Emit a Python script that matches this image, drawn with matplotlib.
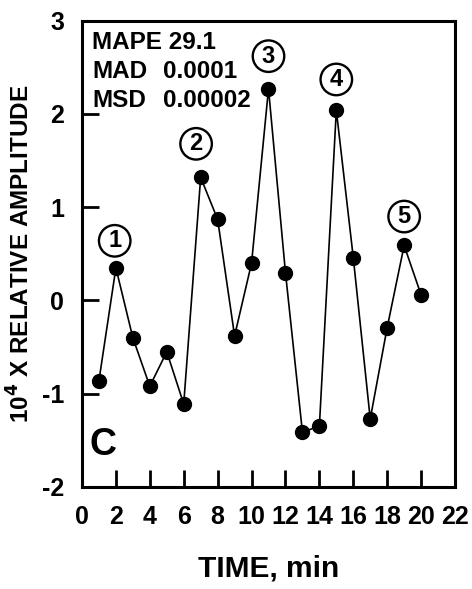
import numpy as np
import matplotlib
matplotlib.use('Agg')
from matplotlib import pyplot as plt

# residual series, minute by minute
minutes = [1, 2, 3, 4, 5, 6, 7, 8, 9, 10, 11, 12, 13, 14, 15, 16, 17, 18, 19, 20]
amplitude = [-0.86, 0.35, -0.40, -0.92, -0.55, -1.11, 1.32, 0.87, -0.38, 0.40,
             2.27, 0.30, -1.41, -1.35, 2.04, 0.46, -1.27, -0.29, 0.59, 0.06]

# numbered peaks
peak_ids = ['1', '2', '3', '4', '5']
peak_x = [1.93, 6.73, 11.0, 15.0, 19.0]
peak_y = [0.64, 1.68, 2.62, 2.37, 0.90]

stats_names = ['MAPE', 'MAD', 'MSD']
stats_values = ['29.1', '0.0001', '0.00002']

plt.rcParams.update({'font.family': 'Liberation Sans', 'font.weight': 'bold',
                     'axes.unicode_minus': False})

fig = plt.figure(figsize=(4.72, 5.89), dpi=100)
ax = fig.add_axes([0.1737, 0.1732, 0.7903, 0.7916])

ax.plot(minutes, amplitude, color='black', lw=1.2, marker='o', ms=10)

for lab, x, y in zip(peak_ids, peak_x, peak_y):
    ax.text(x, y, lab, fontsize=17, fontweight='bold', ha='center', va='center',
            bbox=dict(boxstyle='circle,pad=0.18', fc='white', ec='black', lw=1.7))

ax.text(0.027, 0.94, f'{stats_names[0]} {stats_values[0]}', transform=ax.transAxes,
        fontsize=17.5, fontweight='bold', va='baseline')
for i in (1, 2):
    yy = 0.94 - 0.062 * i
    ax.text(0.027, yy, stats_names[i], transform=ax.transAxes,
            fontsize=17.5, fontweight='bold', va='baseline')
    ax.text(0.218, yy, stats_values[i], transform=ax.transAxes,
            fontsize=17.5, fontweight='bold', va='baseline')

ax.text(0.021, 0.069, 'C', transform=ax.transAxes, fontsize=27, fontweight='bold',
        va='baseline')

ax.set_xlim(0, 22)
ax.set_ylim(-2, 3)
ax.set_xticks(np.arange(0, 23, 2))
ax.set_yticks(np.arange(-2, 4, 1))
ax.tick_params(direction='in', length=12, width=2, labelsize=18, top=False, right=False)
ax.tick_params(axis='x', pad=13)
ax.tick_params(axis='y', pad=13)
for lbl in ax.get_xticklabels() + ax.get_yticklabels():
    lbl.set_fontweight('bold')
for s in ax.spines.values():
    s.set_linewidth(2.2)

ax.set_xlabel('TIME, min', fontsize=21.5, fontweight='bold', labelpad=18)
ax.set_ylabel('10$^\\mathbf{4}$ X RELATIVE AMPLITUDE', fontsize=17.5, fontweight='bold', labelpad=5)

fig.savefig('out.png', dpi=100)
